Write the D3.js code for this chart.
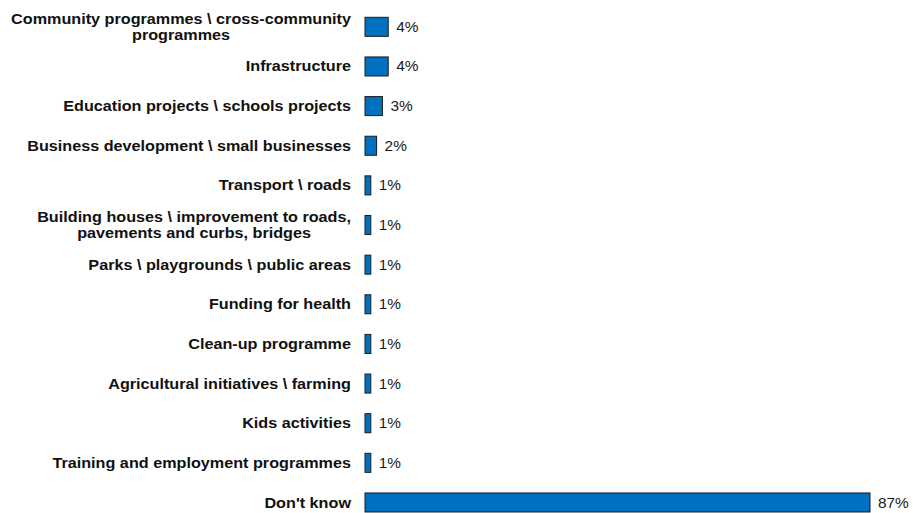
<!DOCTYPE html>
<html><head><meta charset="utf-8">
<script src="https://cdn.jsdelivr.net/npm/d3@7"></script>
<style>body{margin:0;background:#fff;} text{font-family:"Liberation Sans",Arial,sans-serif;}</style>
</head><body>
<svg id="chart" width="913" height="513"></svg>
<script>
const categories = [
  ["Community programmes \\ cross-community", "programmes"],
  ["Infrastructure"],
  ["Education projects \\ schools projects"],
  ["Business development \\ small businesses"],
  ["Transport \\ roads"],
  ["Building houses \\ improvement to roads,", "pavements and curbs, bridges"],
  ["Parks \\ playgrounds \\ public areas"],
  ["Funding for health"],
  ["Clean-up programme"],
  ["Agricultural initiatives \\ farming"],
  ["Kids activities"],
  ["Training and employment programmes"],
  ["Don't know"]
];
const values = [4, 4, 3, 2, 1, 1, 1, 1, 1, 1, 1, 1, 87];
const valueLabels = ["4%","4%","3%","2%","1%","1%","1%","1%","1%","1%","1%","1%","87%"];

const svg = d3.select("#chart");
const idx = d3.range(values.length);
const y = d3.scaleBand().domain(idx).range([-3.3, 532.6]).padding(0.52);
const x = d3.scaleLinear().domain([0, 87]).range([365, 870]);

svg.selectAll("rect.bar").data(idx).join("rect")
  .attr("class","bar")
  .attr("x", x(0))
  .attr("y", i => y(i))
  .attr("width", i => x(values[i]) - x(0))
  .attr("height", y.bandwidth())
  .attr("fill", "#0070C0")
  .attr("stroke", "#1a1a1a")
  .attr("stroke-width", 1);

const valScale = 1.1;
svg.selectAll("text.val").data(idx).join("text")
  .attr("class","val")
  .attr("x", i => x(values[i]) + 8)
  .attr("y", i => y(i) + y.bandwidth()/2)
  .attr("dy", "0.36em")
  .attr("font-size", 14)
  .attr("fill", "#1a1a1a")
  .attr("transform", i => { const x0 = x(values[i]) + 8; return `translate(${x0},0) scale(${valScale},1) translate(${-x0},0)`; })
  .text(i => valueLabels[i]);

const lineH = 16.6;
const labelRight = 351;
const catScale = 1.157;
idx.forEach(i => {
  const lines = categories[i];
  const g = svg.append("text")
    .attr("font-size", 14)
    .attr("font-weight", "bold")
    .attr("fill", "#111")
    .attr("transform", `translate(${labelRight},0) scale(${catScale},1) translate(${-labelRight},0)`);
  const cy = y(i) + y.bandwidth()/2;
  const tspans = lines.map((l, k) => g.append("tspan")
    .attr("y", cy + (k - (lines.length-1)/2) * lineH)
    .attr("dy", "0.36em")
    .text(l));
  const maxW = d3.max(tspans, t => t.node().getComputedTextLength());
  g.attr("text-anchor", "middle");
  tspans.forEach(t => t.attr("x", labelRight - maxW/2));
});
</script>
</body></html>
